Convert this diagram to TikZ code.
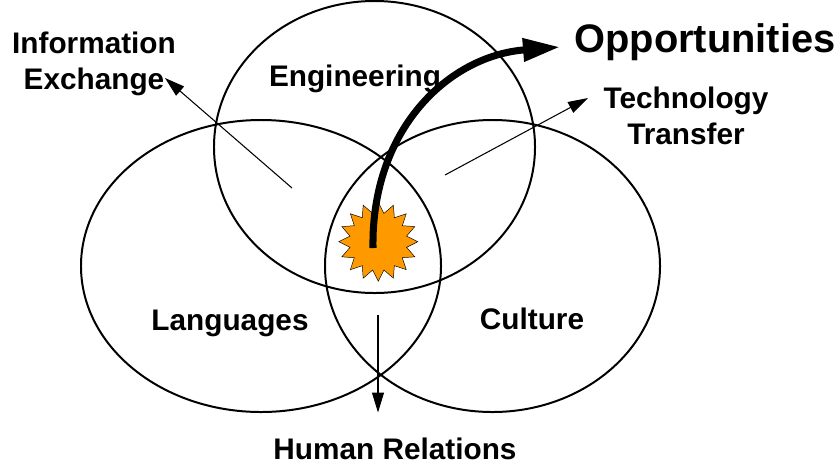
\documentclass[tikz,border=0pt]{standalone}
\usepackage{fontspec}
\setmainfont{Liberation Sans}
\usetikzlibrary{shapes.geometric,arrows.meta}
\definecolor{sparkorange}{HTML}{FF9900}
\tikzset{
  lobe/.style={ellipse, draw=black, line width=1.7pt, inner sep=0pt},
  lbl/.style={font=\fontsize{25.4}{31}\selectfont\bfseries, align=center, inner sep=0pt},
  thinarrow/.style={draw=black, line width=0.9pt, -{Triangle[length=0.6cm,width=0.36cm]}}
}
\begin{document}
\begin{tikzpicture}[x=0.03cm,y=-0.03cm]
  \useasboundingbox (0,0) rectangle (840,465);

  % Circulos
  \node[lobe, minimum width=9.63cm, minimum height=8.76cm] (engineering) at (374.5,147) {};
  \node[lobe, minimum width=10.8cm, minimum height=8.76cm] (languages) at (261,266) {};
  \node[lobe, minimum width=10.05cm, minimum height=8.76cm] (culture) at (492.5,266) {};

  % Estrella
  \node[star, star points=16, star point ratio=1.37, draw=black, line width=0.4pt, fill=sparkorange,
        minimum size=2.37cm, inner sep=0pt] (spark) at (378.3,241.7) {};

  % Puntos libres
  \coordinate (infoS) at (292,188);
  \coordinate (infoE) at (165,78);
  \coordinate (techS) at (445,175);
  \coordinate (techE) at (588,98);
  \coordinate (humanS) at (378,315);
  \coordinate (humanE) at (378,412.5);
  \coordinate (oppS) at (373,248);
  \coordinate (oppE) at (560,47);

  % Flechas
  \draw[thinarrow] (infoS) -- (infoE);
  \draw[thinarrow] (techS) -- (techE);
  \draw[thinarrow] (humanS) -- (humanE);
  \draw[black, line width=6pt, -{Triangle[length=1.11cm,width=0.66cm]}]
    (oppS) .. controls (371,130) and (448,56) .. (oppE);

  % Etiquetas
  \node[lbl] (engineeringL) at (355,79) {Engineering};
  \node[lbl] (languagesL) at (230,323) {Languages};
  \node[lbl] (cultureL) at (532,319) {Culture};
  \node[lbl] (infoL) at (94,64) {Information\\Exchange};
  \node[lbl] (techL) at (686,116) {Technology\\Transfer};
  \node[lbl] (humanL) at (395,449) {Human Relations};
  \node[lbl, font=\fontsize{34}{40}\selectfont\bfseries] (oppL) at (705,42) {Opportunities};
\end{tikzpicture}
\end{document}
